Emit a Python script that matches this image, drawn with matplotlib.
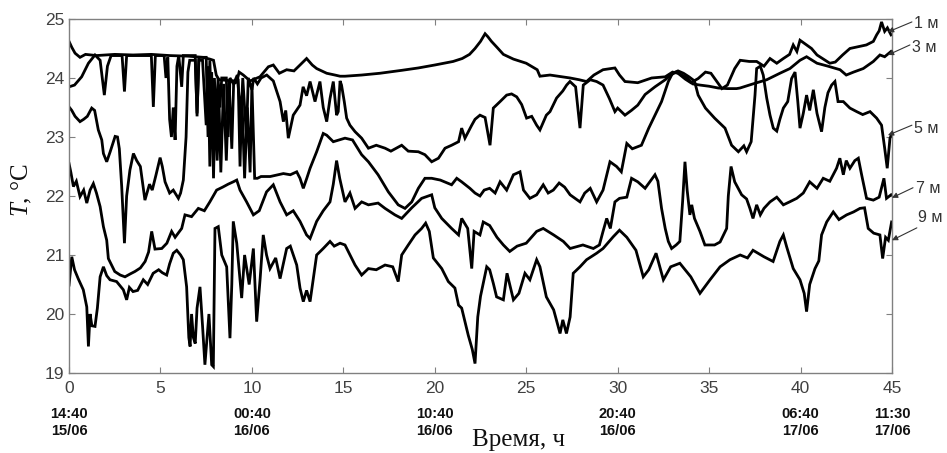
import matplotlib
matplotlib.use('Agg')
import matplotlib.pyplot as plt

# --- data (hours from start, temperature degC) ---
t_1m = [0, 0.15, 0.33, 0.6, 0.9, 1.5, 2.5, 3.5, 4.5, 5.5, 6.5, 7.3, 7.7, 7.9, 8.05, 8.2, 8.6, 9.0, 9.2, 9.3,
        9.53, 9.9, 10.44, 10.9, 11.17, 11.5, 11.9, 12.3, 12.63, 12.99, 13.3, 13.54, 14.09, 14.54, 14.82,
        15.09, 16.0, 17.0, 18.2, 19.1, 20.0, 21.0, 21.5, 21.9, 22.2, 22.5, 22.75, 22.9, 23.1, 23.4,
        23.75, 24.3, 25.0, 25.6, 25.75, 26.3, 27.4, 27.9, 28.3, 28.7, 29.2, 29.85, 30.1, 30.4, 31.1,
        31.86, 32.6, 33.0, 33.3, 33.7, 34.0, 34.4, 34.8, 35.1, 35.7, 36.0, 36.4, 36.7, 37.2, 37.6,
        38.0, 38.33, 38.7, 39.06, 39.4, 39.6, 39.8, 39.97, 40.33, 40.6, 40.9, 41.2, 41.6, 41.9, 42.3,
        42.7, 43.0, 43.6, 43.98, 44.16, 44.3, 44.43, 44.6, 44.75, 44.95]
T_1m = [24.62, 24.52, 24.42, 24.35, 24.4, 24.38, 24.4, 24.39, 24.4, 24.38, 24.37, 24.35, 24.32, 24.3, 24.05,
        23.97, 23.96, 23.95, 23.97, 24.1, 24.05, 23.95, 24.02, 24.19, 24.22, 24.08, 24.14, 24.12, 24.22, 24.33,
        24.22, 24.16, 24.08, 24.05, 24.03, 24.03, 24.05, 24.08, 24.13, 24.17, 24.22, 24.28, 24.33, 24.4, 24.5,
        24.62, 24.75, 24.7, 24.62, 24.52, 24.4, 24.32, 24.25, 24.14, 24.03, 24.05, 24.0, 23.97, 23.94, 24.05,
        24.14, 24.17, 24.05, 23.94, 23.92, 24.0, 24.02, 24.1, 24.08, 23.98, 23.92, 23.99, 24.1, 24.08, 23.82,
        23.88, 24.16, 24.3, 24.28, 24.28, 24.2, 24.33, 24.25, 24.33, 24.4, 24.56, 24.45, 24.64, 24.56, 24.5,
        24.39, 24.33, 24.25, 24.27, 24.39, 24.5, 24.52, 24.56, 24.62, 24.73, 24.8, 24.95, 24.79, 24.85, 24.73]

t_3m = [0, 0.3, 0.69, 1.06, 1.42, 1.7, 1.93, 2.1, 2.3, 2.9, 3.03, 3.15, 4.5, 4.61, 4.72, 5.2, 5.3, 5.4, 5.5, 5.6,
        5.7, 5.8, 5.9, 6.0, 6.16, 6.25, 6.9, 7.0, 7.1, 7.5, 7.6, 7.7, 7.85, 7.95, 8.05, 8.15, 8.25, 8.35, 8.6, 8.7,
        8.8, 9.0, 9.2, 9.4, 9.5, 9.7, 9.8, 10.0, 10.1, 10.3, 10.5, 10.81, 11.17, 11.54, 11.72, 11.85, 11.99, 12.26,
        12.63, 12.8, 12.99, 13.18, 13.45, 13.72, 13.9, 14.09, 14.27, 14.45, 14.63, 14.72, 14.82, 14.9, 15.05,
        15.18, 15.36, 15.64, 16.0, 16.37, 16.8, 17.28, 17.6, 18.19, 18.55, 19.1, 19.46, 19.83, 20.2, 20.56,
        20.92, 21.3, 21.47, 21.65, 22.02, 22.2, 22.47, 22.75, 23.02, 23.2, 23.57, 23.93, 24.2, 24.48, 24.75,
        25.02, 25.3, 25.57, 25.75, 26.1, 26.3, 26.66, 27.0, 27.21, 27.39, 27.7, 27.94, 28.12, 28.5, 28.85,
        29.2, 29.55, 29.85, 30.0, 30.4, 30.75, 31.1, 31.5, 32.04, 32.6, 32.9, 33.2, 33.5, 33.8, 34.1, 34.5,
        35.0, 35.5, 36.0, 36.5, 36.69, 37.4, 38.15, 38.87, 39.42, 39.97, 40.33, 40.9, 41.5, 42.16, 42.5,
        42.9, 43.43, 43.98, 44.34, 44.6, 44.95]
T_3m = [23.85, 23.88, 24.02, 24.25, 24.39, 24.3, 23.71, 24.2, 24.38, 24.38, 23.77, 24.38, 24.38, 23.51, 24.38,
        24.38, 24.0, 24.35, 23.3, 23.0, 23.5, 22.95, 24.2, 24.38, 23.85, 24.38, 24.38, 23.35, 24.35, 24.35,
        23.0, 24.3, 22.8, 24.0, 23.2, 24.0, 23.5, 24.0, 24.0, 23.0, 24.0, 23.9, 24.05, 23.3, 24.0, 23.0, 24.0,
        23.8, 24.0, 23.9, 24.0, 24.05, 23.95, 23.6, 23.26, 23.45, 22.98, 23.37, 23.54, 23.85, 23.7, 23.94,
        23.6, 23.94, 23.5, 23.26, 23.65, 23.94, 23.37, 23.43, 23.95, 23.88, 23.6, 23.32, 23.2, 23.09, 22.98,
        22.81, 22.86, 22.81, 22.76, 22.86, 22.76, 22.75, 22.7, 22.58, 22.64, 22.81, 22.86, 22.92, 23.15, 22.98,
        23.2, 23.3, 23.37, 23.33, 22.86, 23.49, 23.6, 23.71, 23.73, 23.68, 23.55, 23.32, 23.35, 23.2, 23.12,
        23.37, 23.43, 23.66, 23.78, 23.88, 23.94, 23.85, 23.15, 23.88, 23.97, 23.94, 23.88, 23.65, 23.43,
        23.49, 23.37, 23.45, 23.54, 23.72, 23.85, 23.97, 24.05, 24.1, 24.05, 24.0, 23.9, 23.88, 23.86, 23.83,
        23.82, 23.82, 23.83, 23.9, 23.97, 24.08, 24.16, 24.3, 24.36, 24.25, 24.2, 24.14, 24.05, 24.1, 24.16,
        24.28, 24.39, 24.36, 24.45]

t_5m = [0, 0.15, 0.33, 0.6, 0.8, 1.0, 1.24, 1.4, 1.6, 1.79, 1.88, 2.06, 2.25, 2.52, 2.65, 2.75, 2.88, 3.03,
        3.15, 3.33, 3.52, 3.7, 3.9, 4.15, 4.4, 4.55, 4.75, 4.98, 5.1, 5.25, 5.5, 5.7, 5.98, 6.1, 6.25, 6.4, 6.5,
        6.6, 6.9, 7.0, 7.1, 7.3, 7.5, 7.6, 7.7, 7.8, 7.9, 8.0, 8.1, 8.2, 8.3, 8.45, 8.6, 8.75, 8.9, 9.0, 9.25,
        9.35, 9.45, 9.6, 9.75, 9.9, 10.0, 10.15, 10.3, 10.5, 11.0, 11.72, 12.1, 12.45, 12.63, 12.81, 13.0,
        13.18, 13.54, 13.9, 14.09, 14.45, 15.09, 15.5, 16.0, 16.37, 16.9, 17.46, 18.0, 18.37, 18.74, 19.1,
        19.46, 19.83, 20.3, 20.92, 21.2, 21.47, 21.92, 22.2, 22.47, 22.7, 23.0, 23.3, 23.57, 23.93, 24.3,
        24.66, 24.85, 25.2, 25.57, 25.93, 26.2, 26.48, 26.8, 27.1, 27.4, 27.94, 28.2, 28.5, 28.85, 29.2,
        29.58, 29.94, 30.2, 30.5, 30.8, 31.3, 31.7, 32.04, 32.4, 32.77, 33.0, 33.3, 33.6, 33.9, 34.2, 34.4,
        34.8, 35.3, 35.87, 36.23, 36.6, 36.9, 37.05, 37.3, 37.51, 37.6, 37.8, 37.96, 38.15, 38.33, 38.51,
        38.7, 38.87, 39.06, 39.3, 39.51, 39.7, 39.85, 39.97, 40.15, 40.33, 40.5, 40.7, 40.9, 41.15, 41.33,
        41.5, 41.7, 41.88, 42.05, 42.34, 42.7, 43.07, 43.4, 43.8, 44.16, 44.43, 44.6, 44.74, 44.89, 44.95]
T_5m = [23.51, 23.45, 23.35, 23.26, 23.3, 23.35, 23.49, 23.45, 23.12, 22.95, 22.72, 22.58, 22.75, 23.01, 23.0,
        22.8, 22.16, 21.2, 22.0, 22.44, 22.72, 22.6, 22.5, 21.93, 22.2, 22.1, 22.35, 22.65, 22.5, 22.24, 22.05,
        22.1, 21.96, 22.05, 22.27, 23.0, 24.1, 24.3, 24.3, 23.4, 24.3, 24.3, 23.2, 24.2, 22.5, 24.1, 22.3, 23.8,
        22.6, 23.6, 22.4, 23.9, 22.6, 23.95, 22.8, 23.9, 23.95, 22.5, 23.7, 22.3, 23.5, 22.4, 23.9, 22.3, 22.3,
        22.33, 22.33, 22.38, 22.36, 22.41, 22.3, 22.13, 22.3, 22.47, 22.75, 23.06, 23.03, 22.92, 22.98, 22.95,
        22.7, 22.58, 22.36, 22.07, 21.85, 21.79, 21.9, 22.13, 22.3, 22.3, 22.27, 22.19, 22.3, 22.24, 22.13,
        22.05, 22.0, 22.1, 22.13, 22.05, 22.24, 22.1, 22.36, 22.41, 22.1, 21.96, 22.02, 22.19, 22.05, 22.1,
        22.22, 22.15, 22.02, 21.9, 22.05, 22.13, 21.9, 22.1, 22.58, 22.5, 22.41, 22.89, 22.8, 22.86, 23.15,
        23.37, 23.6, 23.94, 24.08, 24.12, 24.08, 24.02, 23.95, 23.71, 23.49, 23.32, 23.15, 22.86, 22.75, 22.85,
        22.75, 22.92, 23.71, 24.16, 24.2, 24.05, 23.66, 23.37, 23.15, 23.1, 23.3, 23.49, 23.6, 23.99, 24.1,
        23.6, 23.15, 23.4, 23.71, 23.45, 23.8, 23.4, 23.09, 23.5, 23.75, 23.88, 23.94, 23.6, 23.6, 23.49,
        23.43, 23.38, 23.43, 23.32, 23.2, 22.81, 22.47, 22.98, 23.02]

t_7m = [0, 0.1, 0.24, 0.4, 0.6, 0.8, 0.97, 1.15, 1.33, 1.5, 1.7, 1.88, 2.06, 2.15, 2.5, 2.8, 3.06, 3.35, 3.6,
        3.9, 4.16, 4.35, 4.52, 4.7, 5.07, 5.35, 5.61, 5.8, 6.16, 6.34, 6.7, 7.07, 7.4, 7.7, 8.07, 8.4, 8.7,
        8.98, 9.17, 9.35, 9.71, 10.08, 10.4, 10.8, 11.17, 11.54, 11.9, 12.26, 12.63, 12.99, 13.18, 13.54,
        13.9, 14.27, 14.45, 14.63, 14.8, 15.09, 15.36, 15.64, 16.0, 16.37, 16.9, 17.28, 17.82, 18.19, 18.74,
        19.28, 19.83, 20.0, 20.38, 20.92, 21.3, 21.47, 21.8, 22.02, 22.15, 22.47, 22.65, 23.0, 23.4, 23.75,
        24.1, 24.5, 25.0, 25.57, 25.93, 26.5, 27.03, 27.4, 28.1, 28.67, 29.0, 29.2, 29.4, 29.6, 29.85, 30.1,
        30.5, 30.76, 31.1, 31.5, 32.04, 32.2, 32.4, 32.6, 32.77, 32.95, 33.2, 33.4, 33.55, 33.68, 33.8,
        33.95, 34.05, 34.2, 34.5, 34.77, 35.3, 35.6, 35.96, 36.05, 36.2, 36.4, 36.78, 37.05, 37.23, 37.4,
        37.6, 37.8, 38.0, 38.33, 38.7, 39.06, 39.4, 39.79, 40.15, 40.5, 40.9, 41.24, 41.6, 41.97, 42.15,
        42.34, 42.5, 42.7, 42.97, 43.16, 43.34, 43.61, 43.98, 44.3, 44.56, 44.7, 44.95]
T_7m = [22.55, 22.4, 22.16, 22.25, 21.99, 22.1, 21.88, 22.1, 22.21, 22.05, 21.82, 21.48, 21.25, 20.94, 20.72,
        20.66, 20.63, 20.68, 20.72, 20.78, 20.89, 21.05, 21.4, 21.1, 21.11, 21.2, 21.4, 21.3, 21.45, 21.68,
        21.65, 21.79, 21.75, 21.9, 22.1, 22.15, 22.2, 22.24, 22.27, 22.1, 21.9, 21.68, 21.75, 22.07, 22.19,
        21.9, 21.68, 21.75, 21.57, 21.34, 21.28, 21.57, 21.75, 21.9, 22.2, 22.6, 22.3, 21.9, 22.05, 21.79,
        21.9, 21.85, 21.88, 21.79, 21.68, 21.62, 21.8, 21.96, 22.02, 21.8, 21.62, 21.45, 21.34, 21.62, 21.45,
        20.77, 21.4, 21.34, 21.56, 21.5, 21.3, 21.17, 21.06, 21.15, 21.2, 21.4, 21.45, 21.34, 21.23, 21.11,
        21.17, 21.11, 21.17, 21.4, 21.62, 21.45, 21.9, 21.96, 21.98, 22.3, 22.24, 22.13, 22.36, 22.25, 21.79,
        21.45, 21.23, 21.11, 21.17, 21.23, 21.9, 22.58, 22.1, 21.68, 21.85, 21.62, 21.4, 21.17, 21.17, 21.22,
        21.45, 22.0, 22.5, 22.24, 22.02, 21.95, 21.79, 21.62, 21.85, 21.68, 21.79, 21.9, 21.98, 21.85, 21.9,
        21.96, 22.05, 22.24, 22.13, 22.3, 22.25, 22.47, 22.64, 22.36, 22.6, 22.47, 22.6, 22.64, 22.36, 21.96,
        21.93, 21.98, 22.3, 21.96, 22.02]

t_9m = [0, 0.15, 0.3, 0.5, 0.78, 0.97, 1.06, 1.15, 1.25, 1.42, 1.55, 1.7, 1.88, 2.06, 2.24, 2.6, 2.97, 3.15,
        3.3, 3.5, 3.75, 4.06, 4.3, 4.6, 4.9, 5.1, 5.34, 5.5, 5.7, 5.89, 6.1, 6.25, 6.43, 6.55, 6.62, 6.7, 6.8,
        6.9, 7.0, 7.16, 7.3, 7.43, 7.55, 7.65, 7.8, 7.89, 7.98, 8.16, 8.35, 8.62, 8.8, 8.9, 8.98, 9.17, 9.44,
        9.6, 9.85, 10.08, 10.26, 10.45, 10.62, 10.8, 10.99, 11.3, 11.54, 11.9, 12.1, 12.45, 12.63, 12.81,
        12.99, 13.18, 13.36, 13.54, 13.9, 14.27, 14.5, 14.82, 15.09, 15.27, 15.64, 16.0, 16.37, 16.8, 17.28,
        17.7, 18.0, 18.19, 18.55, 18.92, 19.28, 19.5, 19.7, 19.92, 20.38, 20.74, 21.1, 21.3, 21.47, 21.83,
        22.05, 22.2, 22.35, 22.5, 22.65, 22.84, 23.0, 23.2, 23.38, 23.75, 23.95, 24.3, 24.6, 24.93, 25.2,
        25.57, 25.75, 26.1, 26.5, 26.85, 27.0, 27.2, 27.4, 27.57, 27.94, 28.3, 28.85, 29.2, 29.76, 30.1,
        30.5, 31.0, 31.4, 31.7, 32.1, 32.5, 32.9, 33.4, 34.0, 34.5, 35.05, 35.6, 36.14, 36.7, 37.1, 37.4,
        38.0, 38.5, 38.87, 39.06, 39.24, 39.6, 39.97, 40.2, 40.33, 40.5, 40.79, 41.0, 41.15, 41.43, 41.79,
        42.1, 42.52, 42.9, 43.25, 43.5, 43.7, 44.0, 44.34, 44.49, 44.65, 44.8, 44.98]
T_9m = [20.49, 20.97, 20.75, 20.6, 20.41, 20.12, 19.45, 20.0, 19.8, 19.79, 20.1, 20.63, 20.8, 20.65, 20.58,
        20.55, 20.41, 20.24, 20.45, 20.38, 20.4, 20.58, 20.5, 20.69, 20.75, 20.7, 20.66, 20.85, 21.03, 21.08,
        21.0, 20.92, 20.46, 19.6, 19.45, 20.0, 19.6, 19.5, 20.1, 20.46, 19.8, 19.14, 19.6, 20.0, 19.14, 19.11,
        21.45, 21.48, 21.0, 20.8, 19.59, 20.5, 21.57, 21.2, 20.27, 21.0, 20.5, 21.11, 19.87, 20.6, 21.34, 21.0,
        20.77, 20.95, 20.6, 21.11, 21.15, 20.83, 20.44, 20.21, 20.4, 20.21, 20.6, 21.0, 21.11, 21.23, 21.15,
        21.2, 21.17, 21.06, 20.83, 20.66, 20.77, 20.75, 20.83, 20.8, 20.55, 21.0, 21.17, 21.34, 21.45, 21.54,
        21.4, 20.95, 20.77, 20.55, 20.44, 20.15, 20.1, 19.64, 19.4, 19.16, 19.95, 20.3, 20.52, 20.8, 20.75,
        20.52, 20.29, 20.24, 20.69, 20.24, 20.35, 20.69, 20.58, 20.92, 20.8, 20.29, 20.07, 19.67, 19.9, 19.67,
        19.95, 20.69, 20.8, 20.92, 21.03, 21.11, 21.31, 21.42, 21.3, 21.08, 20.63, 20.75, 21.03, 20.58, 20.8,
        20.86, 20.63, 20.35, 20.58, 20.8, 20.92, 21.0, 20.95, 21.08, 20.97, 20.89, 21.23, 21.34, 21.14, 20.77,
        20.58, 20.35, 20.04, 20.5, 20.77, 20.9, 21.34, 21.56, 21.73, 21.6, 21.68, 21.73, 21.79, 21.8, 21.45,
        21.37, 21.34, 20.94, 21.3, 21.25, 21.56]

series = [(t_1m, T_1m), (t_3m, T_3m), (t_5m, T_5m), (t_7m, T_7m), (t_9m, T_9m)]

depth_labels = ['1 м', '3 м', '5 м', '7 м', '9 м']
# arrow tip (on the curve end) and label position for each depth
arrow_tips = [(44.78, 24.78), (44.78, 24.39), (44.78, 23.03), (45.0, 21.97), (45.0, 21.25)]
label_pos = [(46.2, 24.93), (46.1, 24.51), (46.2, 23.15), (46.3, 22.12), (46.4, 21.63)]
arrow_tails = [(46.09, 24.95), (45.98, 24.56), (46.09, 23.2), (46.15, 22.14), (46.36, 21.46)]

x_ticks = [0, 5, 10, 15, 20, 25, 30, 35, 40, 45]
y_ticks = [19, 20, 21, 22, 23, 24, 25]
date_pos = [0, 10, 20, 30, 40, 45]
date_labels = ['14:40\n15/06', '00:40\n16/06', '10:40\n16/06', '20:40\n16/06', '06:40\n17/06', '11:30\n17/06']

plt.rcParams['mathtext.fontset'] = 'custom'
plt.rcParams['mathtext.it'] = 'Liberation Serif:italic'
plt.rcParams['mathtext.rm'] = 'Liberation Serif'

fig = plt.figure(figsize=(9.47, 4.53), dpi=100)
ax = fig.add_axes([0.0729, 0.1766, 0.8690, 0.7815])

for tt, TT in series:
    ax.plot(tt, TT, color='black', lw=2.0, solid_joinstyle='miter')

ax.set_xlim(0, 45)
ax.set_ylim(19, 25)
ax.set_xticks(x_ticks)
ax.set_yticks(y_ticks)
ax.tick_params(direction='in', top=True, right=True, length=4, width=0.8,
               color='#808080', labelcolor='#404040', labelsize=12.5)
ax.tick_params(axis='x', pad=6)
for lab in ax.get_xticklabels() + ax.get_yticklabels():
    lab.set_family('Liberation Sans')
for sp in ax.spines.values():
    sp.set_color('#808080')
    sp.set_linewidth(1.0)

# date / time annotation under the hour ticks
for x, s in zip(date_pos, date_labels):
    ax.text(x, -0.14, s, transform=ax.get_xaxis_transform(), ha='center', va='center',
            fontsize=10.5, fontweight='bold', family='Liberation Sans', color='#111111',
            linespacing=1.3)

# depth labels with arrows on the right
for lab, tip, pos, tail in zip(depth_labels, arrow_tips, label_pos, arrow_tails):
    ax.annotate('', xy=tip, xytext=tail, annotation_clip=False,
                arrowprops=dict(arrowstyle='-|>', color='#333333', lw=0.8, mutation_scale=8,
                                shrinkA=0, shrinkB=0))
    ax.text(pos[0], pos[1], lab, ha='left', va='center', fontsize=11.5,
            family='Liberation Sans', color='#333333', clip_on=False)

fig.text(0.0235, 0.58, r'$T$, °C', rotation=90, ha='center', va='center',
         fontsize=18, family='Liberation Serif', color='#111111')
fig.text(0.548, 0.029, 'Время, ч', ha='center', va='center',
         fontsize=18, family='Liberation Serif', color='#111111')

fig.savefig('out.png', dpi=100)
